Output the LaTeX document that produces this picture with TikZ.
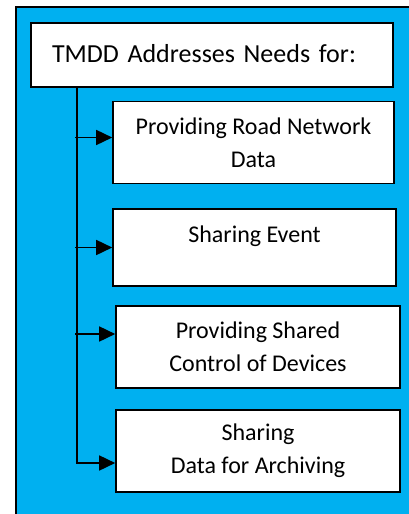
\documentclass[tikz,border=0pt]{standalone}
\usepackage{fontspec}
\setmainfont{Carlito}
\usetikzlibrary{arrows.meta}
\definecolor{panelblue}{RGB}{0,176,240}
\tikzset{
  needbox/.style={draw=black, fill=white, line width=1.6pt, inner sep=0pt,
    align=center, font=\fontsize{24}{32.6}\selectfont},
  feed/.style={line width=1.6pt, -{Triangle[length=16pt,width=15pt]}},
}
\begin{document}
\begin{tikzpicture}[x=1pt,y=-1pt]
  \useasboundingbox (0,0) rectangle (409,514);
  % blue panel, bordered on the left and top
  \fill[panelblue] (16,7) rectangle (409,514);
  \draw[line width=2pt] (16,514) -- (16,7) -- (409,7);
  % heading
  \node[needbox, minimum width=362pt, minimum height=64pt, text width=320pt,
        align=left, inner xsep=21pt, font=\fontsize{26}{32.6}\selectfont] (title) at (212,55)
        {\raisebox{3pt}{TMDD Addresses Needs for:}};
  % the four needs
  \node[needbox, minimum width=281pt, minimum height=82pt] (b1) at (253.5,142.5)
        {Providing Road Network\\Data};
  \node[needbox, minimum width=283pt, minimum height=77pt] (b2) at (254.5,247.5)
        {Sharing Event\\[-6pt]\mbox{}};
  \node[needbox, minimum width=284pt, minimum height=82pt] (b3) at (258,347)
        {Providing Shared\\Control of Devices};
  \node[needbox, minimum width=284pt, minimum height=82pt] (b4) at (258,451)
        {Sharing\\Data for Archiving};
  % trunk and branches
  \coordinate (trunk) at (77,0);
  \draw[line width=1.6pt] (title.south -| trunk) -- ([yshift=-12pt]b4.west -| trunk);
  \draw[feed] ([xshift=-2pt,yshift=5pt]b1.west -| trunk) -- ([yshift=5pt]b1.west);
  \draw[feed] ([xshift=-2pt]b2.west -| trunk) -- (b2.west);
  \draw[feed] ([xshift=-2pt,yshift=13pt]b3.west -| trunk) -- ([yshift=13pt]b3.west);
  \draw[feed] ([xshift=-0.8pt,yshift=-12pt]b4.west -| trunk) -- ([yshift=-12pt]b4.west);
\end{tikzpicture}
\end{document}
